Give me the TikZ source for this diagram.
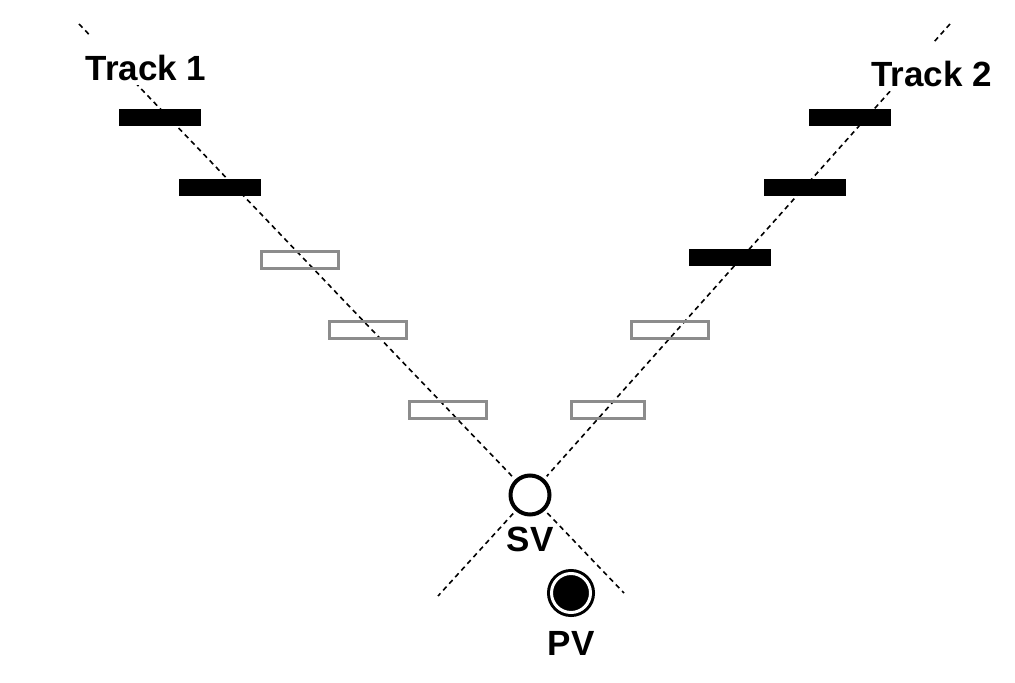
\documentclass[tikz,border=0pt]{standalone}
\usepackage{fontspec}
\setmainfont{Liberation Sans}
\usetikzlibrary{positioning,backgrounds}
\tikzset{
trackline/.style={line width=0.8pt,dash pattern=on 2.5pt off 2pt,black},
hitbox/.style={rectangle,fill=black,draw=none,minimum width=41pt,minimum height=8.5pt,inner sep=0pt},
misshit/.style={rectangle,draw=black!45,line width=1.5pt,minimum width=38.5pt,minimum height=8.5pt,inner sep=0pt},
vtxlabel/.style={font=\fontsize{17.5}{21}\selectfont\bfseries,inner sep=3.33pt},
tracklabel/.style={vtxlabel,fill=white,inner ysep=2pt,text height=20.5pt,text depth=0pt,anchor=base},
secvtx/.style={circle,draw,fill=white,line width=2pt,minimum size=19.5pt,inner sep=0pt,outer sep=2.75pt},
primvtx/.style={circle,draw,fill=black,line width=1.5pt,double=white,double distance=1.5pt,minimum size=19.5pt,inner sep=0pt}
}

\begin{document}
\begin{tikzpicture}[x=0.5pt,y=-0.5pt]
\useasboundingbox (0,0) rectangle (1015,683);
% vertices
\node[secvtx] (sv) at (530,495) {};
\node[vtxlabel,below=0pt of sv] (svlab) {SV};
\node[primvtx] (pv) at (571,593) {};
\node[vtxlabel,below=5pt of pv] (pvlab) {PV};
% track ends
\coordinate (t1a) at (79,24);
\coordinate (t1b) at (624,593);
\coordinate (t2a) at (950,24);
\coordinate (t2b) at (438,596);
\begin{scope}[on background layer]
\draw[trackline] (t1a) -- (sv);
\draw[trackline] (sv) -- (t1b);
\draw[trackline] (t2a) -- (sv);
\draw[trackline] (sv) -- (t2b);
\end{scope}
% track 1 layers
\node[hitbox] (h11) at (160,117.5) {};
\node[hitbox] (h12) at (220,187.5) {};
\node[misshit] (m13) at (300,260) {};
\node[misshit] (m14) at (368,330) {};
\node[misshit] (m15) at (448,410) {};
% track 2 layers
\node[hitbox] (h21) at (850,117.5) {};
\node[hitbox] (h22) at (805,187.5) {};
\node[hitbox] (h23) at (730,257.5) {};
\node[misshit] (m24) at (670,330) {};
\node[misshit,minimum width=36.5pt] (m25) at (608,410) {};
% labels
\node[tracklabel] (trk1) at (146,81) {Track 1};
\node[tracklabel] (trk2) at (931.5,87) {Track 2};
\end{tikzpicture}
\end{document}
